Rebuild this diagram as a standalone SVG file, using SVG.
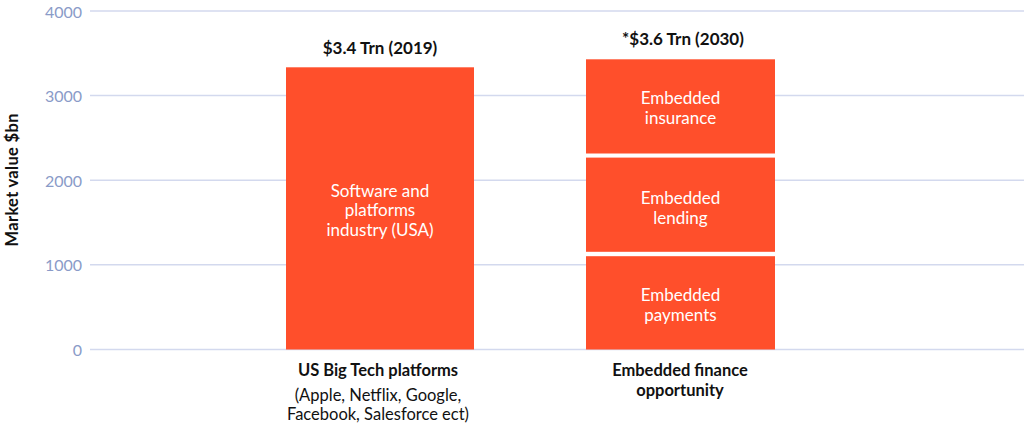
<svg xmlns="http://www.w3.org/2000/svg" width="1024" height="423" viewBox="0 0 1024 423">
<style>
.grid{stroke:#d3d9ee;stroke-width:1.5}
.tick{font-family:Lato,"Liberation Sans",sans-serif;font-size:16px;fill:#8a9bc8;text-anchor:end;dominant-baseline:central}
.bar{fill:#ff4f2b}
.in{font-family:Lato,"Liberation Sans",sans-serif;font-size:17px;fill:#ffffff;text-anchor:middle}
.top{font-family:Lato,"Liberation Sans",sans-serif;font-size:17px;font-weight:bold;fill:#111111;text-anchor:middle}
.bold{font-family:Lato,"Liberation Sans",sans-serif;font-size:16.5px;font-weight:bold;fill:#111111;text-anchor:middle}
.reg{font-family:Lato,"Liberation Sans",sans-serif;font-size:16.5px;fill:#111111;text-anchor:middle}
</style>
<rect width="1024" height="423" fill="#ffffff"/>
<g id="axis">
<line class="grid" x1="90" y1="11" x2="1024" y2="11"/>
<line class="grid" x1="90" y1="95.6" x2="1024" y2="95.6"/>
<line class="grid" x1="90" y1="180.2" x2="1024" y2="180.2"/>
<line class="grid" x1="90" y1="264.8" x2="1024" y2="264.8"/>
<line class="grid" x1="90" y1="349.4" x2="1024" y2="349.4"/>
<text class="tick" x="82" y="11">4000</text>
<text class="tick" x="82" y="95.6">3000</text>
<text class="tick" x="82" y="180.2">2000</text>
<text class="tick" x="82" y="264.8">1000</text>
<text class="tick" x="82" y="349.4">0</text>
<text font-family="Lato,'Liberation Sans',sans-serif" font-size="16.5" font-weight="bold" fill="#111111" text-anchor="middle" textLength="133" transform="translate(17.5,180) rotate(-90)">Market value $bn</text>
</g>
<g id="bar-us">
<rect class="bar" x="286" y="67.3" width="188" height="282.2"/>
<text class="top" x="380" y="54">$3.4 Trn (2019)</text>
<text class="in" x="380" y="196.7">Software and</text>
<text class="in" x="380" y="216.2">platforms</text>
<text class="in" x="380" y="235.7">industry (USA)</text>
<text class="bold" x="378" y="375.7">US Big Tech platforms</text>
<text class="reg" x="378" y="400.5">(Apple, Netflix, Google,</text>
<text class="reg" x="378" y="420">Facebook, Salesforce ect)</text>
</g>
<g id="bar-insurance">
<rect class="bar" x="586" y="59.3" width="189" height="94.2"/>
<text class="in" x="680.5" y="104.3">Embedded</text>
<text class="in" x="680.5" y="124.3">insurance</text>
</g>
<g id="bar-lending">
<rect class="bar" x="586" y="157.6" width="189" height="94.2"/>
<text class="in" x="680.5" y="204">Embedded</text>
<text class="in" x="680.5" y="224">lending</text>
</g>
<g id="bar-payments">
<rect class="bar" x="586" y="256.2" width="189" height="93.3"/>
<text class="in" x="680.5" y="301">Embedded</text>
<text class="in" x="680.5" y="321">payments</text>
</g>
<g id="labels-ef">
<text class="top" x="683" y="45">*$3.6 Trn (2030)</text>
<text class="bold" x="680" y="375.7">Embedded finance</text>
<text class="bold" x="680" y="395.5">opportunity</text>
</g>
</svg>
